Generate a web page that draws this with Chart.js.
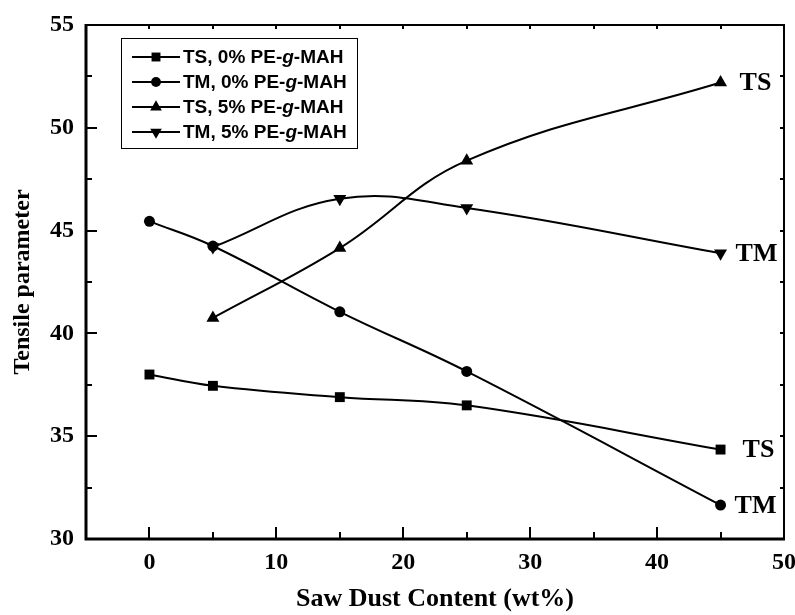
<!DOCTYPE html>
<html>
<head>
<meta charset="utf-8">
<script src="https://cdn.jsdelivr.net/npm/chart.js@4/dist/chart.umd.min.js"></script>
<style>
html,body{margin:0;padding:0;background:#fff}
#wrap{width:795px;height:615px}
</style>
</head>
<body>
<div id="wrap"><canvas id="chart" width="795" height="615"></canvas></div>
<script>

// saw dust loading (wt%)
const loading0=[0,5,15,25,45]
const loading5=[5,15,25,45]

// tensile values
const ts0=[38.0,37.45,36.9,36.5,34.35]
const tm0=[45.45,44.25,41.05,38.15,31.65]
const ts5=[40.75,44.15,48.4,52.2]
const tm5=[44.2,46.55,46.1,43.9]

const legendNames=[
['TS, 0% PE-','g','-MAH'],
['TM, 0% PE-','g','-MAH'],
['TS, 5% PE-','g','-MAH'],
['TM, 5% PE-','g','-MAH']
]
const endLabels=['TS','TM','TS','TM']

const serif="'Liberation Serif','Times New Roman',serif"
const sans="'Liberation Sans',Arial,sans-serif"

function pts(xs,ys){
return xs.map((x,i)=>({x:x,y:ys[i]}))
}

const marks=[
{style:'rect',r:7,rot:0,lab:22},
{style:'circle',r:5.5,rot:0,lab:14},
{style:'triangle',r:7.5,rot:0,lab:19},
{style:'triangle',r:7.5,rot:180,lab:15}
]

function ds(data,m){
return {
data:data,
borderColor:'#000',
backgroundColor:'#000',
borderWidth:2,
tension:0.4,
pointStyle:m.style,
pointRadius:m.r,
pointRotation:m.rot,
pointBorderWidth:0,
pointBackgroundColor:'#000',
pointHoverRadius:m.r
}
}

function mark(ctx,m,x,y,scale){
const r=m.r*scale
ctx.save()
ctx.fillStyle='#000'
ctx.translate(x,y)
ctx.rotate(m.rot*Math.PI/180)
ctx.beginPath()
if(m.style==='rect'){
const s=r*Math.SQRT1_2
ctx.rect(-s,-s,2*s,2*s)
}else if(m.style==='circle'){
ctx.arc(0,0,r,0,Math.PI*2)
}else{
for(let k=0;k<3;k++){
const a=-Math.PI/2+k*2*Math.PI/3
if(k===0)ctx.moveTo(r*Math.cos(a),r*Math.sin(a))
else ctx.lineTo(r*Math.cos(a),r*Math.sin(a))
}
ctx.closePath()
}
ctx.fill()
ctx.restore()
}

// frame with inward ticks on all four sides
const framePlugin={
id:'frame',
afterDatasetsDraw(chart){
const ctx=chart.ctx
const a=chart.chartArea
const xs=chart.scales.x
const ys=chart.scales.y
ctx.save()
ctx.strokeStyle='#000'
ctx.lineWidth=2
ctx.beginPath()
ctx.moveTo(a.left,a.top);ctx.lineTo(a.right,a.top);ctx.lineTo(a.right,a.bottom)
ctx.stroke()
ctx.lineWidth=3
ctx.beginPath()
ctx.moveTo(a.left,a.top-1);ctx.lineTo(a.left,a.bottom);ctx.lineTo(a.right+1,a.bottom)
ctx.stroke()

function minors(ticks,min){
const v=ticks.map(t=>t.value)
const out=[]
for(let i=0;i<v.length-1;i++)out.push((v[i]+v[i+1])/2)
if(v.length>1){
const m=v[0]-(v[1]-v[0])/2
if(m>min)out.push(m)
}
return out
}

ctx.lineWidth=2
xs.ticks.forEach(t=>{
const p=Math.round(xs.getPixelForValue(t.value))
ctx.beginPath();ctx.moveTo(p,a.bottom);ctx.lineTo(p,a.bottom-12);ctx.stroke()
ctx.beginPath();ctx.moveTo(p,a.top);ctx.lineTo(p,a.top+4);ctx.stroke()
})
minors(xs.ticks,xs.min).forEach(v=>{
const p=Math.round(xs.getPixelForValue(v))
ctx.beginPath();ctx.moveTo(p,a.bottom);ctx.lineTo(p,a.bottom-7);ctx.stroke()
ctx.beginPath();ctx.moveTo(p,a.top);ctx.lineTo(p,a.top+4);ctx.stroke()
})
ys.ticks.forEach(t=>{
const p=Math.round(ys.getPixelForValue(t.value))
ctx.beginPath();ctx.moveTo(a.left,p);ctx.lineTo(a.left+11,p);ctx.stroke()
ctx.beginPath();ctx.moveTo(a.right,p);ctx.lineTo(a.right-4,p);ctx.stroke()
})
minors(ys.ticks,ys.min).forEach(v=>{
const p=Math.round(ys.getPixelForValue(v))
ctx.beginPath();ctx.moveTo(a.left,p);ctx.lineTo(a.left+6,p);ctx.stroke()
ctx.beginPath();ctx.moveTo(a.right,p);ctx.lineTo(a.right-4,p);ctx.stroke()
})
ctx.restore()
}
}

// TS / TM tags at the end of each curve
const tagPlugin={
id:'tags',
afterDatasetsDraw(chart){
const ctx=chart.ctx
ctx.save()
ctx.fillStyle='#000'
ctx.font='bold 26px '+serif
ctx.textAlign='left'
ctx.textBaseline='middle'
chart.data.datasets.forEach((d,i)=>{
const meta=chart.getDatasetMeta(i)
const p=meta.data[meta.data.length-1]
ctx.fillText(endLabels[i],p.x+marks[i].lab,p.y+1)
})
ctx.restore()
}
}

// boxed legend with italic g
const legendPlugin={
id:'boxLegend',
afterDatasetsDraw(chart){
const ctx=chart.ctx
const box={x:121,y:38,w:236,h:110}
ctx.save()
ctx.fillStyle='#fff'
ctx.fillRect(box.x,box.y,box.w,box.h)
ctx.strokeStyle='#000'
ctx.lineWidth=1
ctx.strokeRect(box.x+0.5,box.y+0.5,box.w,box.h)
legendNames.forEach((parts,i)=>{
const y=57+i*25
ctx.lineWidth=2
ctx.beginPath();ctx.moveTo(132,y);ctx.lineTo(180,y);ctx.stroke()
mark(ctx,marks[i],156,y,0.9)
let x=183
ctx.fillStyle='#000'
ctx.textBaseline='middle'
ctx.textAlign='left'
parts.forEach((s,k)=>{
ctx.font=(k===1?'italic bold ':'bold ')+'19px '+sans
ctx.fillText(s,x,y+1)
x+=ctx.measureText(s).width
})
})
ctx.restore()
}
}

const tickFont={family:serif,weight:'bold',size:24}

new Chart(
document.getElementById('chart'),
{
type:'line',
data:{
datasets:[
ds(pts(loading0,ts0),marks[0]),
ds(pts(loading0,tm0),marks[1]),
ds(pts(loading5,ts5),marks[2]),
ds(pts(loading5,tm5),marks[3])
]
},
options:{
responsive:false,
animation:false,
devicePixelRatio:1,
layout:{padding:{top:25,right:11,left:0,bottom:0}},
plugins:{legend:{display:false},tooltip:{enabled:false}},
scales:{
x:{
type:'linear',
min:-5,
max:50,
grid:{display:false,drawTicks:false},
border:{display:false},
afterFit(s){s.height=76;s.paddingLeft=0;s.paddingRight=0},
ticks:{stepSize:10,includeBounds:false,padding:9,color:'#000',font:tickFont,maxRotation:0,autoSkip:false},
title:{display:true,text:'Saw Dust Content (wt%)',color:'#000',font:{family:serif,weight:'bold',size:26},padding:{top:0,bottom:0}}
},
y:{
type:'linear',
min:30,
max:55,
grid:{display:false,drawTicks:false},
border:{display:false},
afterFit(s){s.width=86;s.paddingTop=0;s.paddingBottom=0},
ticks:{stepSize:5,includeBounds:false,padding:12,color:'#000',font:tickFont},
title:{display:true,text:'Tensile parameter',color:'#000',font:{family:serif,weight:'bold',size:24},padding:{top:8,bottom:0}}
}
}
},
plugins:[framePlugin,legendPlugin,tagPlugin]
})

</script>
</body>
</html>
